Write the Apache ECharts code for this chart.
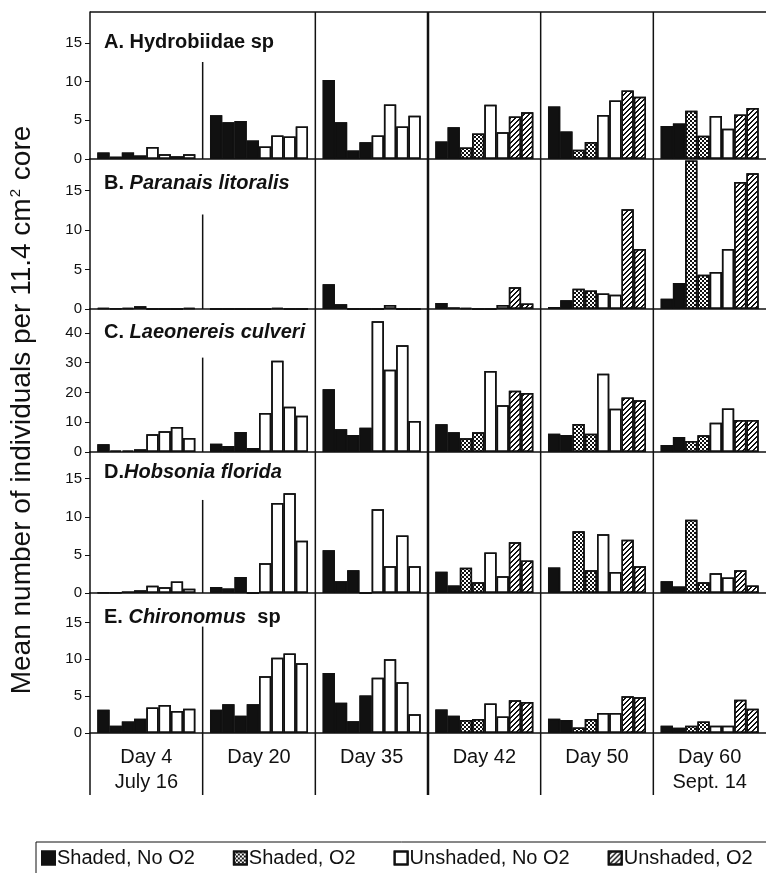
<!DOCTYPE html>
<html>
<head>
<meta charset="utf-8">
<title>Benthic fauna by treatment</title>
<script src="https://cdn.jsdelivr.net/npm/echarts@6/dist/echarts.min.js"></script>
<style>
  html, body { margin: 0; padding: 0; background: #fff; }
  #main { width: 766px; height: 873px; }
</style>
</head>
<body>
<div id="main"></div>
<script>
var days = ['Day 4\nJuly 16', 'Day 20', 'Day 35', 'Day 42', 'Day 50', 'Day 60\nSept. 14'];
var treatments = ['Shaded, No O2', 'Shaded, O2', 'Unshaded, No O2', 'Unshaded, O2'];
// treatment of each of the 8 bars in a day group (O2 treatments start on day 42)
var barTreatment = [
  [0, 0, 0, 0, 2, 2, 2, 2],
  [0, 0, 0, 0, 2, 2, 2, 2],
  [0, 0, 0, 0, 2, 2, 2, 2],
  [0, 0, 1, 1, 2, 2, 3, 3],
  [0, 0, 1, 1, 2, 2, 3, 3],
  [0, 0, 1, 1, 2, 2, 3, 3]
];
var ticks15 = [0, 5, 10, 15];
var ticks40 = [0, 10, 20, 30, 40];

// mean individuals per core, one row per day, 8 bars each
var hydrobiidae = [
  [0.85, 0.3, 0.85, 0.45, 1.55, 0.6, 0.35, 0.6],
  [5.65, 4.75, 4.9, 2.4, 1.6, 3.05, 2.9, 4.2],
  [10.2, 4.75, 1.1, 2.15, 3.05, 7.05, 4.2, 5.6],
  [2.25, 4.1, 1.5, 3.3, 7.0, 3.45, 5.5, 6.05],
  [6.8, 3.55, 1.2, 2.2, 5.7, 7.55, 8.85, 8.05],
  [4.25, 4.6, 6.25, 3.0, 5.55, 3.9, 5.75, 6.6]
];
var paranais = [
  [0.1, 0.05, 0.15, 0.35, 0, 0, 0, 0.15],
  [0, 0, 0, 0, 0, 0.15, 0, 0],
  [3.15, 0.6, 0, 0, 0, 0.5, 0, 0],
  [0.75, 0.2, 0.15, 0, 0, 0.5, 2.75, 0.7],
  [0.25, 1.1, 2.55, 2.35, 1.95, 1.8, 12.65, 7.6],
  [1.3, 3.3, 18.8, 4.35, 4.7, 7.6, 16.1, 17.2]
];
var laeonereis = [
  [2.6, 0.45, 0.45, 0.9, 6.0, 7.0, 8.4, 4.7],
  [2.8, 2.0, 6.75, 1.35, 13.1, 30.6, 15.2, 12.2],
  [21.1, 7.6, 5.7, 8.1, 43.9, 27.6, 35.8, 10.4],
  [9.3, 6.6, 4.6, 6.6, 27.2, 15.7, 20.6, 19.8],
  [6.1, 5.7, 9.4, 6.1, 26.3, 14.5, 18.3, 17.4],
  [2.35, 5.05, 3.7, 5.6, 9.8, 14.6, 10.7, 10.7]
];
var hobsonia = [
  [0.05, 0.05, 0.2, 0.35, 0.95, 0.75, 1.5, 0.55],
  [0.8, 0.6, 2.1, 0, 3.9, 11.8, 13.1, 6.85],
  [5.6, 1.55, 3.0, 0, 11.0, 3.5, 7.55, 3.5],
  [2.8, 1.0, 3.3, 1.4, 5.3, 2.2, 6.65, 4.25],
  [3.35, 0.2, 8.1, 3.0, 7.7, 2.75, 7.0, 3.5],
  [1.55, 0.85, 9.6, 1.4, 2.6, 2.05, 3.0, 1.0]
];
var chironomus = [
  [3.15, 1.0, 1.55, 1.95, 3.45, 3.8, 3.0, 3.3],
  [3.15, 3.9, 2.35, 3.9, 7.7, 10.2, 10.8, 9.45],
  [8.15, 4.1, 1.6, 5.1, 7.5, 10.0, 6.9, 2.55],
  [3.2, 2.35, 1.75, 1.9, 4.0, 2.25, 4.45, 4.2],
  [1.95, 1.75, 0.75, 1.9, 2.7, 2.7, 5.0, 4.85],
  [1.0, 0.7, 1.0, 1.55, 1.0, 1.0, 4.5, 3.3]
];

var panels = [
  { title: '{b|A. Hydrobiidae sp}', data: hydrobiidae, max: 19, ticks: ticks15 },
  { title: '{b|B. }{bi|Paranais litoralis}', data: paranais, max: 19, ticks: ticks15 },
  { title: '{b|C. }{bi|Laeonereis culveri}', data: laeonereis, max: 48, ticks: ticks40 },
  { title: '{b|D.}{bi|Hobsonia florida}', data: hobsonia, max: 18.5, ticks: ticks15 },
  { title: '{b|E. }{bi|Chironomus}{b|  sp}', data: chironomus, max: 19, ticks: ticks15 }
];

var FONT = '"Liberation Sans", Arial, Helvetica, sans-serif';
var INK = '#111';
var plotTop = 12, plotLeft = 90;
var panelH = [147, 150, 143, 141, 140];
var titleDy = [30, 24, 23, 20, 24];
var shortStart = [0.34, 0.37, 0.34, 0.34, 0.24];

var checkDecal = {
  symbol: 'rect', symbolSize: 1, color: INK,
  dashArrayX: [[2, 2], [0, 2, 2, 0]], dashArrayY: [2, 0]
};
// "/" hatching built row by row (rows run downwards, so the run steps left)
var hatchDecal = {
  symbol: 'rect', symbolSize: 1, color: INK,
  dashArrayX: [[0, 3, 2, 0], [0, 2, 2, 1], [0, 1, 2, 2], [2, 3], [1, 3, 1, 0]],
  dashArrayY: [1, 0]
};
// invisible pattern, used to switch a patterned series off for single bars
var plainDecal = {
  symbol: 'rect', symbolSize: 1, color: 'rgba(0,0,0,0)',
  dashArrayX: [1, 0], dashArrayY: [4, 4]
};

function styleFor(t) {
  var s = { borderColor: INK, borderWidth: 1.5 };
  if (t === 0) { s.color = INK; s.decal = plainDecal; }
  if (t === 1) { s.color = '#fff'; s.decal = checkDecal; }
  if (t === 2) { s.color = '#fff'; s.decal = plainDecal; }
  if (t === 3) { s.color = '#fff'; s.decal = hatchDecal; }
  return s;
}

var grids = [], xAxes = [], yAxes = [], titles = [], series = [];
var gridTop = plotTop;
panels.forEach(function (p, gi) {
  grids.push({ left: plotLeft, right: 0, top: gridTop, height: panelH[gi] });
  titles.push({
    text: p.title, left: 104, top: gridTop + titleDy[gi] - 11, padding: 0,
    textStyle: {
      rich: {
        b: { fontFamily: FONT, fontSize: 20, fontWeight: 'bold', color: INK, lineHeight: 22 },
        bi: { fontFamily: FONT, fontSize: 20, fontWeight: 'bold', fontStyle: 'italic', color: INK, lineHeight: 22 }
      }
    }
  });
  gridTop += panelH[gi];
  xAxes.push({
    type: 'category', gridIndex: gi, data: days,
    axisLine: { lineStyle: { color: INK, width: 1.5 } },
    axisTick: { show: false },
    axisLabel: {
      show: gi === panels.length - 1, interval: 0, margin: 12,
      fontFamily: FONT, fontSize: 20, lineHeight: 25, color: INK
    },
    splitLine: { show: false }
  });
  yAxes.push({
    type: 'value', gridIndex: gi, min: 0, max: p.max,
    axisLine: { show: true, lineStyle: { color: INK, width: 1.5 } },
    axisTick: { show: true, length: 5, customValues: p.ticks, lineStyle: { color: INK } },
    axisLabel: { customValues: p.ticks, margin: 8, fontFamily: FONT, fontSize: 15, color: INK },
    splitLine: { show: false }
  });
  for (var j = 0; j < 8; j++) {
    var main = barTreatment[barTreatment.length - 1][j];
    series.push({
      type: 'bar', name: treatments[main],
      xAxisIndex: gi, yAxisIndex: gi,
      barGap: '0%', barCategoryGap: '13%',
      itemStyle: styleFor(main),
      emphasis: { disabled: true },
      data: p.data.map(function (vals, d) {
        var t = barTreatment[d][j];
        return t === main ? vals[j] : { value: vals[j], itemStyle: styleFor(t) };
      })
    });
  }
});

var chart = echarts.init(document.getElementById('main'));
chart.setOption({
  animation: false,
  backgroundColor: '#fff',
  title: titles,
  grid: grids,
  xAxis: xAxes,
  yAxis: yAxes,
  series: series,
  legend: {
    data: treatments.map(function (n) { return { name: n, icon: 'rect' }; }),
    left: 41, top: 848, padding: 0,
    itemWidth: 13, itemHeight: 13, itemGap: 38,
    selectedMode: false,
    textStyle: { fontFamily: FONT, fontSize: 20, color: INK, padding: [0, 0, 0, -3] }
  }
});

// frame, dividers and axis title placed from the axes' own scales
var last = panels.length - 1;
var centers = days.map(function (d) { return chart.convertToPixel({ xAxisIndex: last }, d); });
var bounds = [];
for (var k = 1; k < centers.length; k++) bounds.push((centers[k - 1] + centers[k]) / 2);
var frameTop = chart.convertToPixel({ yAxisIndex: 0 }, panels[0].max);
var baseE = chart.convertToPixel({ yAxisIndex: last }, 0);
var frameBottom = baseE + 62;
var rightX = centers[centers.length - 1] + (centers[1] - centers[0]) / 2;

function seg(x1, y1, x2, y2, w) {
  return { type: 'line', silent: true, z: 10,
    shape: { x1: x1, y1: y1, x2: x2, y2: y2 },
    style: { stroke: INK, lineWidth: w || 1.5 } };
}

var graphics = [];
graphics.push(seg(plotLeft, frameTop, rightX + 10, frameTop));
graphics.push(seg(plotLeft, baseE, plotLeft, frameBottom));
bounds.forEach(function (x, i) {
  if (i === 0) {
    panels.forEach(function (p, gi) {
      var yTop = chart.convertToPixel({ yAxisIndex: gi }, p.max);
      var yBase = chart.convertToPixel({ yAxisIndex: gi }, 0);
      graphics.push(seg(x, yTop + shortStart[gi] * (yBase - yTop), x, yBase));
    });
    graphics.push(seg(x, baseE, x, frameBottom));
  } else {
    graphics.push(seg(x, frameTop, x, frameBottom, i === 2 ? 2.5 : 1.5));
  }
});
graphics.push({
  type: 'rect', silent: true,
  shape: { x: 36, y: 842, width: 800, height: 60 },
  style: { fill: null, stroke: INK, lineWidth: 1 }
});
graphics.push({
  type: 'text', silent: true, x: 22, y: 410, rotation: Math.PI / 2,
  style: {
    text: '{a|Mean number of individuals per 11.4 cm}{s|2}{a| core}',
    align: 'center', verticalAlign: 'middle',
    rich: {
      a: { fontFamily: FONT, fontSize: 28, fill: INK },
      s: { fontFamily: FONT, fontSize: 15, fill: INK, verticalAlign: 'top', padding: [0, 1, 13, 1] }
    }
  }
});
chart.setOption({ graphic: graphics });
</script>
</body>
</html>
